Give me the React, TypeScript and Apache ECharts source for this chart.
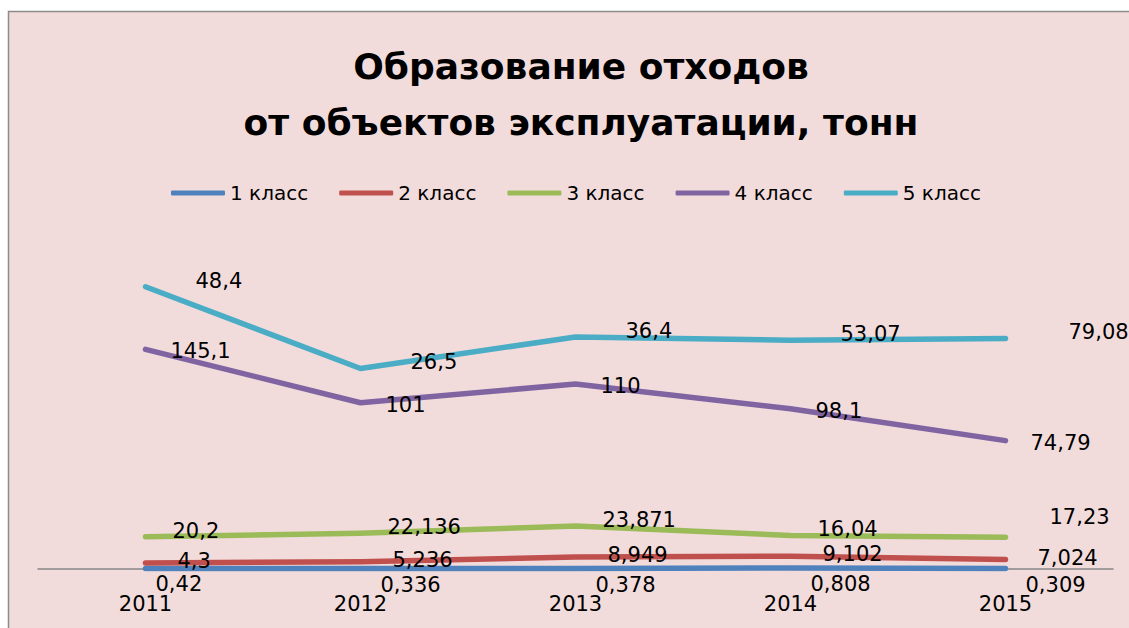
import React, { useEffect, useRef } from "react";
import * as echarts from "echarts";

const years = ["2011", "2012", "2013", "2014", "2015"];
const seriesNames = ["1 класс", "2 класс", "3 класс", "4 класс", "5 класс"];
const class1 = [0.42, 0.336, 0.378, 0.808, 0.309];
const class2 = [4.3, 5.236, 8.949, 9.102, 7.024];
const class3 = [20.2, 22.136, 23.871, 16.04, 17.23];
const class4 = [145.1, 101, 110, 98.1, 74.79];
const class5 = [48.4, 26.5, 36.4, 53.07, 79.08];
const seriesValues = [class1, class2, class3, class4, class5];

const colors = ["#4F81BD", "#C0504D", "#9BBB59", "#8064A2", "#4BACC6"];
// label placement per series: distance to the right of the point, vertical offset
const labelDistance = [19, 31, 26, 24, 49];
const labelDy = [16, -2, -6, 2, -6];

const FONT = "DejaVu Sans";

export default function App() {
  const ref = useRef<HTMLDivElement>(null);
  useEffect(() => {
    if (!ref.current) return;
    const chart = echarts.init(ref.current, null, { renderer: "svg" });
    const fmt = (p: any) => String(p.value).replace(".", ",");
    chart.setOption({
      animation: false,
      backgroundColor: "#ffffff",
      graphic: [
        {
          type: "rect",
          z: -10,
          silent: true,
          shape: { x: 8.5, y: 11.5, width: 1200, height: 700 },
          style: { fill: "#F2DCDB", stroke: "#8c8c8c", lineWidth: 1.5 },
        },
      ],
      title: {
        text: "Образование отходов\nот объектов эксплуатации, тонн",
        left: 576,
        textAlign: "center",
        top: 33,
        textStyle: {
          fontFamily: FONT,
          fontSize: 36,
          fontWeight: "bold",
          lineHeight: 56,
          color: "#000",
        },
      },
      legend: {
        data: seriesNames,
        left: 166,
        top: 178,
        icon: "roundRect",
        itemWidth: 54,
        itemHeight: 5,
        itemGap: 31,
        textStyle: { fontFamily: FONT, fontSize: 20, color: "#000" },
      },
      grid: { left: 38, right: 16, top: 246, bottom: 59 },
      xAxis: {
        type: "category",
        data: years,
        boundaryGap: true,
        axisLine: { lineStyle: { color: "#868686", width: 1.5 } },
        axisTick: { show: false },
        axisLabel: { margin: 24, fontFamily: FONT, fontSize: 21, color: "#000" },
      },
      yAxis: { type: "value", min: 0, max: 250, show: false, splitLine: { show: false } },
      series: seriesValues.map((vals, i) => ({
        name: seriesNames[i],
        type: "line",
        stack: "total",
        symbol: "circle",
        symbolSize: 2,
        color: colors[i],
        itemStyle: { color: colors[i] },
        lineStyle: { width: 5.5, color: colors[i], cap: "round", join: "round" },
        data: vals.map((v, j) => {
          const item: any = { value: v };
          if (j === vals.length - 1 && i === 4) item.label = { distance: 62 };
          if (j === vals.length - 1 && i === 2) item.label = { distance: 43, offset: [0, -20] };
          if (j === 0 && i === 0) item.label = { distance: 9 };
          return item;
        }),
        label: {
          show: true,
          position: "right",
          distance: labelDistance[i],
          offset: [0, labelDy[i]],
          formatter: fmt,
          fontFamily: FONT,
          fontSize: 21,
          color: "#000",
        },
      })),
    });
    return () => chart.dispose();
  }, []);
  return (
    <div
      ref={ref}
      style={{ position: "fixed", left: 0, top: 0, width: 1129, height: 628 }}
    />
  );
}
